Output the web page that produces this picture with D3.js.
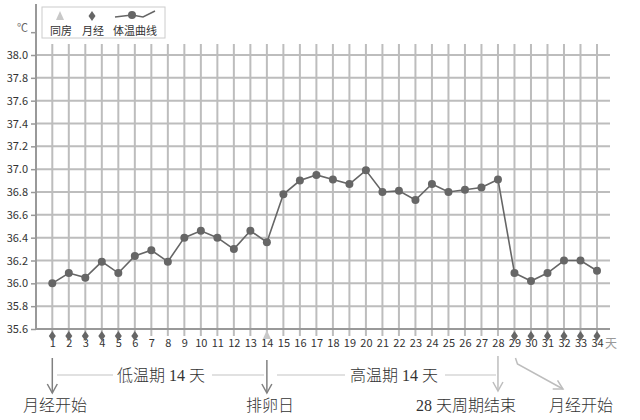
<!DOCTYPE html>
<html><head><meta charset="utf-8">
<script src="https://cdn.jsdelivr.net/npm/d3@7"></script>
<style>body{margin:0;background:#fff}svg{display:block}</style>
</head><body>
<svg id="c" width="640" height="420"></svg>
<script>
const days = d3.range(1, 35);
const temps = [36.00,36.09,36.05,36.19,36.09,36.24,36.29,36.19,36.40,36.46,36.40,36.30,36.46,36.36,
  36.78,36.90,36.95,36.91,36.87,36.99,36.80,36.81,36.73,36.87,36.80,36.82,36.84,36.91,
  36.09,36.02,36.09,36.20,36.20,36.11];
const mensesDays = [1,2,3,4,5,6,29,30,31,32,33,34];
const intercourseDays = [14];
const yTicks = [35.6,35.8,36.0,36.2,36.4,36.6,36.8,37.0,37.2,37.4,37.6,37.8,38.0];
const legendLabels = ["同房","月经","体温曲线"];

const svg = d3.select("#c");
const x = d3.scaleLinear().domain([1,34]).range([52.3,597]);
const y = d3.scaleLinear().domain([35.6,38.0]).range([329,55]);
const grid = "#bdbdbd", dark = "#666";
const sans = "'Noto Sans CJK SC','Noto Sans',sans-serif";

// horizontal grid
svg.append("g").selectAll("line").data(yTicks.slice(1)).join("line")
  .attr("x1",36).attr("x2",610).attr("y1",d=>y(d)).attr("y2",d=>y(d))
  .attr("stroke",grid).attr("stroke-width",2);
// vertical grid
svg.append("g").selectAll("line").data(days).join("line")
  .attr("x1",d=>x(d)).attr("x2",d=>x(d)).attr("y1",44).attr("y2",336)
  .attr("stroke",grid).attr("stroke-width",2);
// x axis line
svg.append("line").attr("x1",36).attr("x2",610).attr("y1",y(35.6)).attr("y2",y(35.6))
  .attr("stroke","#999").attr("stroke-width",2);

// y axis
const yAxis = d3.axisLeft(y).tickValues(yTicks.concat([38.2])).tickSize(5).tickPadding(3)
  .tickFormat(d=> d>38.1 ? "℃" : d3.format(".1f")(d));
const ya = svg.append("g").attr("transform","translate(36,0)").call(yAxis);
ya.select(".domain").remove();
ya.selectAll(".tick line").attr("stroke","#999").attr("stroke-width",1.5);
ya.selectAll(".tick text").attr("fill","#333").style("font-family",sans).style("font-size","11px");
ya.selectAll(".tick").filter(d=>d>38.1).select("text").attr("dy","-0.1em").attr("fill","#666");
svg.append("line").attr("x1",36).attr("x2",36).attr("y1",4).attr("y2",y(35.6)+1)
  .attr("stroke","#999").attr("stroke-width",2);

// x labels
const xAxis = d3.axisBottom(x).tickValues(days).tickSize(0).tickPadding(10).tickFormat(d3.format("d"));
const xa = svg.append("g").attr("transform",`translate(0,${y(35.6)})`).call(xAxis);
xa.select(".domain").remove();
xa.selectAll(".tick text").attr("fill","#333").style("font-family",sans).style("font-size","11px");
svg.append("text").attr("x",605).attr("y",348).text("天").attr("fill","#999")
  .style("font-family",sans).style("font-size","12px");

// markers
const diamond = "M0,-5L3.5,0L0,5L-3.5,0Z";
const tri = "M0,-5L4,4L-4,4Z";
svg.append("g").selectAll("path").data(mensesDays).join("path")
  .attr("d",diamond).attr("transform",d=>`translate(${x(d)},336)`).attr("fill",dark);
svg.append("g").selectAll("path").data(intercourseDays).join("path")
  .attr("d",tri).attr("transform",d=>`translate(${x(d)},335)`).attr("fill","#c8c8c8");

// temperature line
const line = d3.line().x((d,i)=>x(days[i])).y(d=>y(d));
svg.append("path").datum(temps).attr("d",line).attr("fill","none").attr("stroke",dark).attr("stroke-width",1.6);
svg.append("g").selectAll("circle").data(temps).join("circle")
  .attr("cx",(d,i)=>x(days[i])).attr("cy",d=>y(d)).attr("r",4).attr("fill",dark);

// legend
const lg = svg.append("g");
lg.append("rect").attr("x",42).attr("y",7).attr("width",123).attr("height",31)
  .attr("fill","#fff").attr("stroke","#ccc").attr("stroke-width",1);
lg.append("path").attr("d",tri).attr("transform","translate(60,16)").attr("fill","#c8c8c8");
lg.append("path").attr("d",diamond).attr("transform","translate(92,16)").attr("fill",dark);
lg.append("path").attr("d","M115,17L132,15L143,17L155,11").attr("fill","none").attr("stroke",dark).attr("stroke-width",1.5);
lg.append("circle").attr("cx",132).attr("cy",15).attr("r",4).attr("fill",dark);
lg.selectAll("text").data(legendLabels).join("text")
  .attr("x",(d,i)=>[61,93,135][i]).attr("y",35).attr("text-anchor","middle")
  .text(d=>d).attr("fill","#333").style("font-family",sans).style("font-size","11px");

// annotations
const defs = svg.append("defs");
function arrowHead(id,color){
  defs.append("marker").attr("id",id).attr("viewBox","0 0 12 12").attr("refX",10).attr("refY",6)
    .attr("markerWidth",12).attr("markerHeight",12).attr("markerUnits","userSpaceOnUse").attr("orient","auto")
    .append("path").attr("d","M1,1L10,6L1,11").attr("fill","none").attr("stroke",color).attr("stroke-width",1.5);
}
arrowHead("ad","#808080"); arrowHead("al","#bdbdbd");
const ann = svg.append("g").style("font-family","'Liberation Serif','Noto Sans CJK SC',serif");
ann.append("line").attr("x1",x(1)).attr("x2",x(1)).attr("y1",358).attr("y2",393)
  .attr("stroke","#808080").attr("stroke-width",1.5).attr("marker-end","url(#ad)");
ann.append("line").attr("x1",x(14)).attr("x2",x(14)).attr("y1",360).attr("y2",393)
  .attr("stroke","#808080").attr("stroke-width",1.5).attr("marker-end","url(#ad)");
ann.append("line").attr("x1",x(28)).attr("x2",x(28)).attr("y1",356).attr("y2",391)
  .attr("stroke","#bdbdbd").attr("stroke-width",1.5).attr("marker-end","url(#al)");
ann.append("path").attr("d",`M${x(29)+1},358L${x(29)+3},364L563,389`).attr("fill","none")
  .attr("stroke","#bdbdbd").attr("stroke-width",1.5).attr("marker-end","url(#al)");
// period lines
[[57,113],[212,264],[277,345],[445,496]].forEach(([a,b])=>{
  ann.append("line").attr("x1",a).attr("x2",b).attr("y1",375).attr("y2",375)
    .attr("stroke","#c4c4c4").attr("stroke-width",1.2);
});
const annTexts = [
  {t:"低温期 14 天", x:161, y:381, c:"#333"},
  {t:"高温期 14 天", x:394, y:381, c:"#333"},
  {t:"月经开始", x:55, y:411, c:"#333"},
  {t:"排卵日", x:270, y:411, c:"#333"},
  {t:"28 天周期结束", x:466, y:411, c:"#333"},
  {t:"月经开始", x:581, y:411, c:"#333"}
];
ann.selectAll("text").data(annTexts).join("text")
  .attr("x",d=>d.x).attr("y",d=>d.y).attr("text-anchor","middle").attr("fill",d=>d.c)
  .style("font-size","16px").style("font-weight","300").text(d=>d.t);
</script>
</body></html>
